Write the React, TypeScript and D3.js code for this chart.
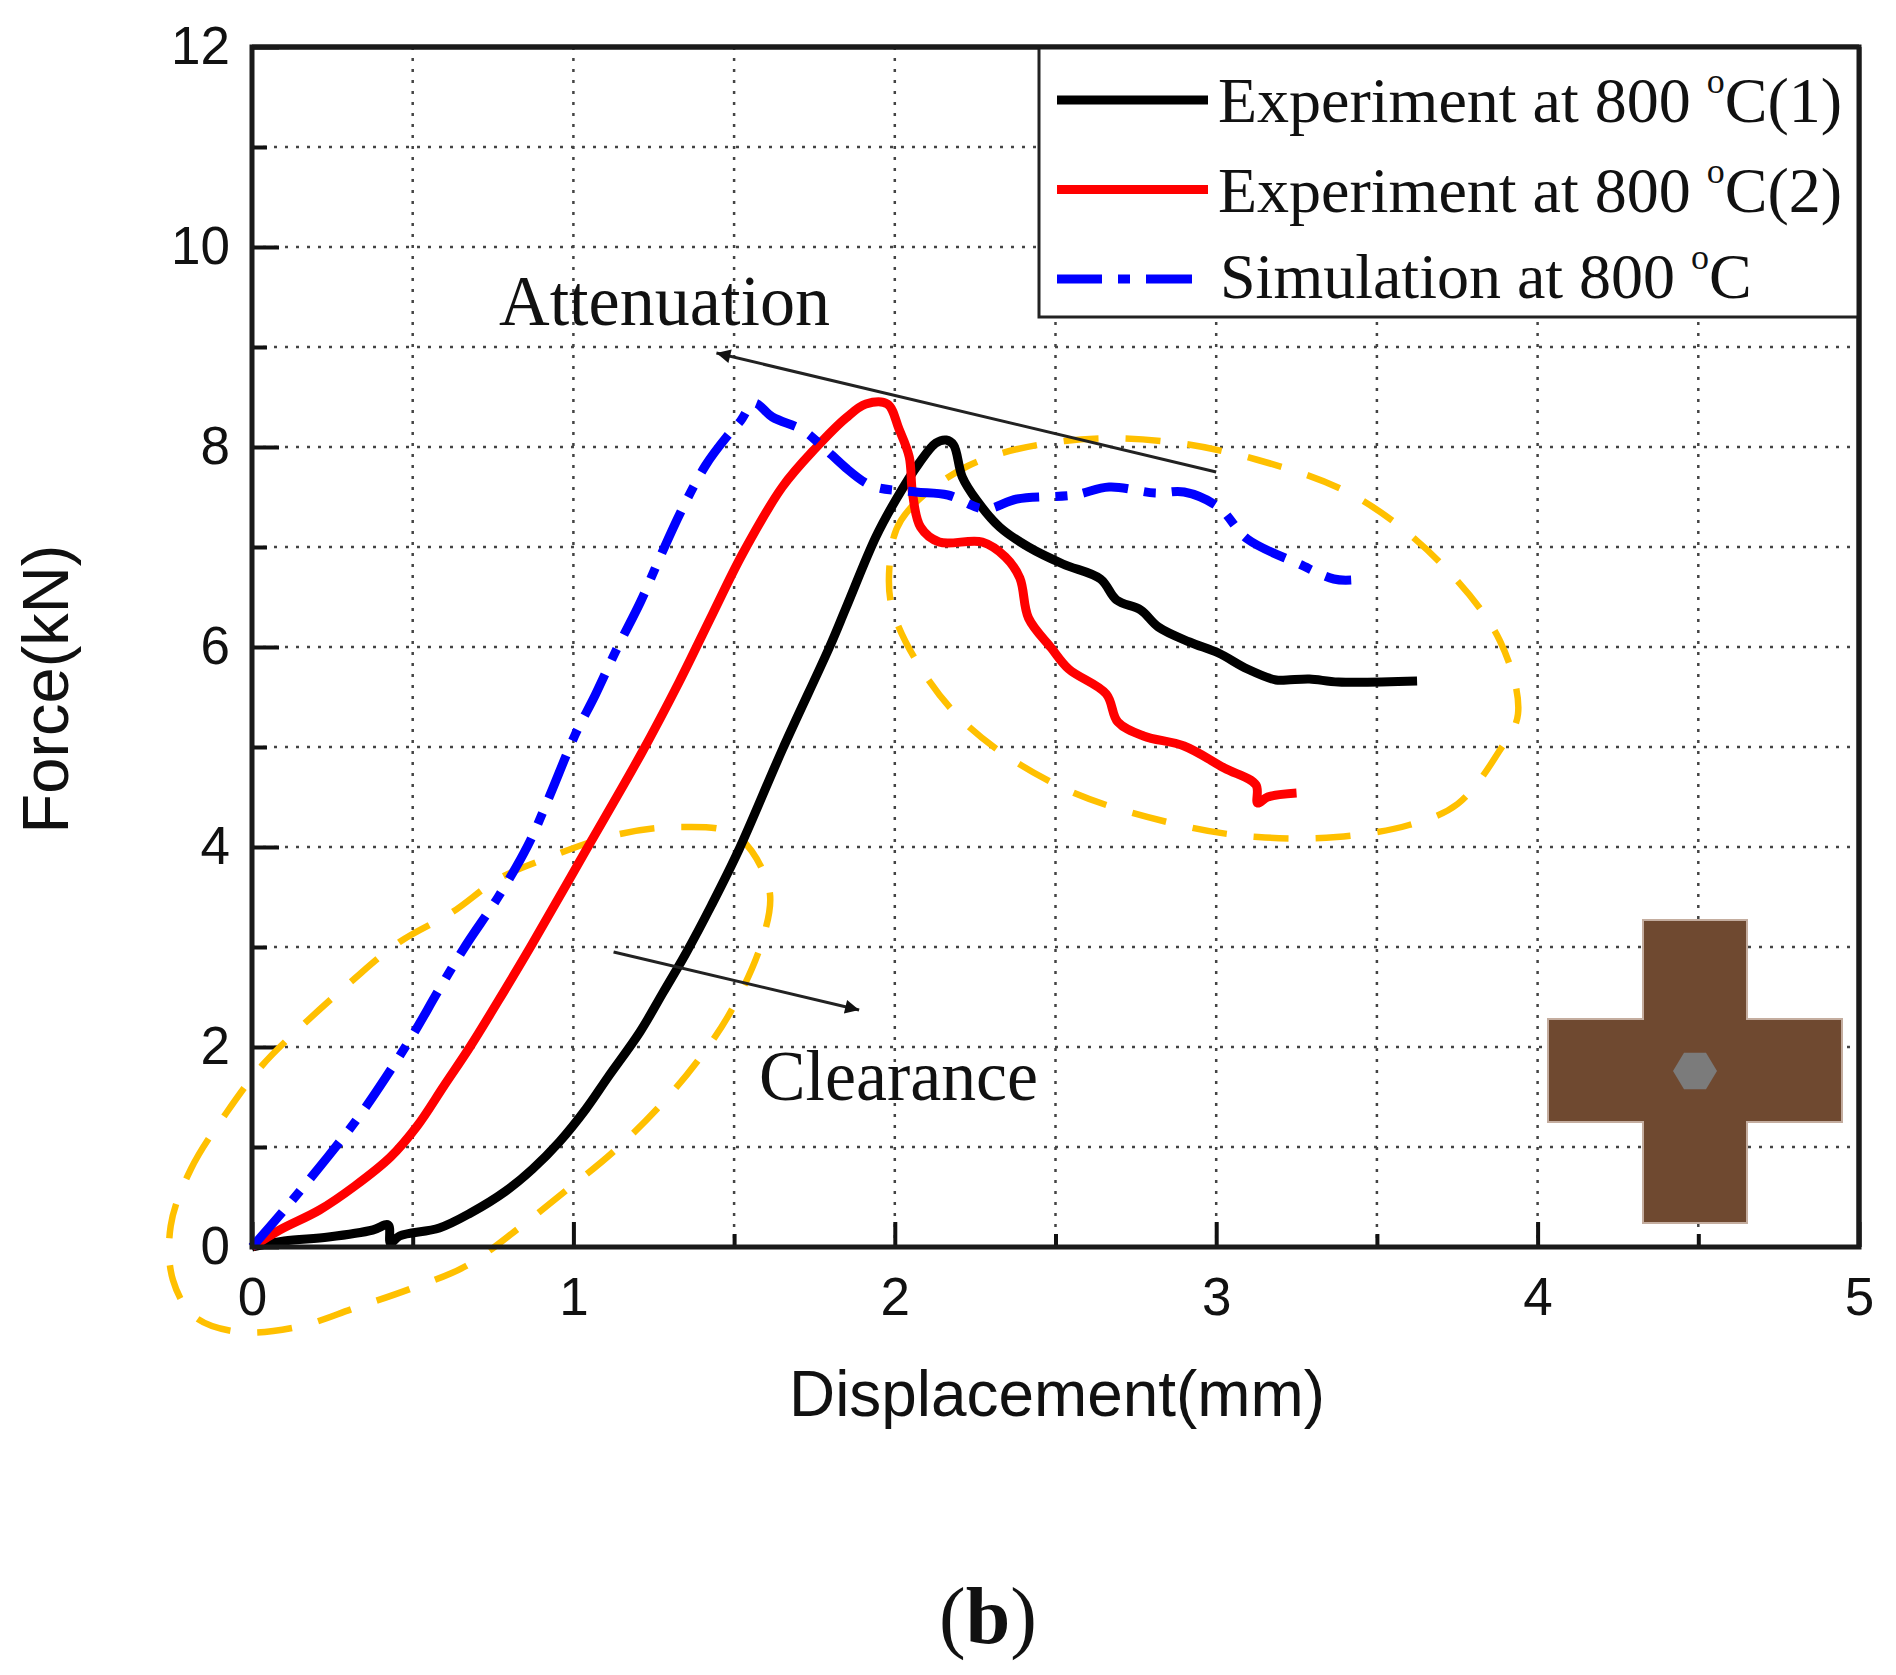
import * as d3 from "d3";
import { useEffect, useRef } from "react";

type Pt = [number, number];

const xMajor = [0, 1, 2, 3, 4, 5];
const xMinor = [0.5, 1.5, 2.5, 3.5, 4.5];
const yMajor = [0, 2, 4, 6, 8, 10, 12];
const yMinor = [1, 3, 5, 7, 9, 11];

// displacement (mm), force (kN)
const experiment1: Pt[] = [
  [0, 0], [0.1, 0.06], [0.238, 0.1], [0.376, 0.17], [0.424, 0.22], [0.431, 0.04], [0.459, 0.11],
  [0.583, 0.19], [0.68, 0.34], [0.79, 0.56], [0.873, 0.78], [0.956, 1.05], [1.039, 1.38], [1.108, 1.7],
  [1.207, 2.15], [1.28, 2.55], [1.349, 2.93], [1.43, 3.42], [1.516, 3.98], [1.651, 4.98], [1.797, 6.0], [1.848, 6.39],
  [1.941, 7.1], [2.003, 7.47], [2.076, 7.84], [2.128, 8.04], [2.16, 8.07], [2.183, 8.02], [2.21, 7.7],
  [2.254, 7.47], [2.326, 7.2], [2.416, 7.0], [2.523, 6.83], [2.64, 6.68], [2.69, 6.47], [2.765, 6.37],
  [2.82, 6.2], [2.917, 6.05], [3.007, 5.94], [3.097, 5.78], [3.186, 5.67], [3.22, 5.67], [3.29, 5.68],
  [3.38, 5.65], [3.625, 5.66],
];

const experiment2: Pt[] = [
  [0, 0], [0.086, 0.17], [0.21, 0.37], [0.32, 0.61], [0.431, 0.9], [0.514, 1.21], [0.597, 1.61],
  [0.68, 2.01], [0.766, 2.46], [0.87, 3.02], [1.036, 3.95], [1.214, 4.95], [1.329, 5.65], [1.433, 6.33],
  [1.526, 6.93], [1.65, 7.6], [1.754, 7.99], [1.848, 8.29], [1.91, 8.43], [1.977, 8.43], [2.013, 8.18],
  [2.045, 7.9], [2.055, 7.54], [2.08, 7.2], [2.138, 7.05], [2.272, 7.05], [2.344, 6.9], [2.389, 6.69],
  [2.416, 6.29], [2.487, 5.99], [2.541, 5.78], [2.658, 5.53], [2.694, 5.25], [2.774, 5.11], [2.9, 5.01],
  [3.025, 4.79], [3.124, 4.62], [3.129, 4.44], [3.16, 4.5], [3.25, 4.54],
];

const simulation: Pt[] = [
  [0, 0], [0.1, 0.37], [0.238, 0.91], [0.334, 1.31], [0.417, 1.7], [0.5, 2.12], [0.583, 2.58],
  [0.666, 3.02], [0.766, 3.5], [0.859, 4.02], [0.922, 4.48], [1.005, 5.12], [1.068, 5.52],
  [1.135, 5.98], [1.21, 6.46], [1.267, 6.88], [1.334, 7.35], [1.412, 7.82], [1.479, 8.11], [1.52, 8.26],
  [1.562, 8.44], [1.619, 8.3], [1.713, 8.17], [1.77, 8.02], [1.848, 7.79],
  [1.91, 7.64], [1.951, 7.59], [2.065, 7.55], [2.165, 7.52], [2.281, 7.38], [2.38, 7.48], [2.559, 7.52],
  [2.667, 7.6], [2.81, 7.54], [2.9, 7.55], [3.007, 7.4], [3.097, 7.08], [3.258, 6.83], [3.366, 6.68],
  [3.42, 6.67],
];

// dashed outlines and arrows, also in data units
const clearanceRing: Pt[] = [
  [-0.253, 0.21], [-0.19, 0.78], [-0.08, 1.34], [0.03, 1.81], [0.155, 2.21], [0.307, 2.65], [0.459, 3.05],
  [0.624, 3.35], [0.766, 3.68], [0.911, 3.88], [1.13, 4.12], [1.328, 4.2], [1.505, 4.12], [1.609, 3.58],
  [1.591, 3.1], [1.494, 2.38], [1.384, 1.85], [1.26, 1.38], [1.12, 0.94], [0.983, 0.58], [0.831, 0.19],
  [0.666, -0.19], [0.5, -0.41], [0.32, -0.61], [0.141, -0.8], [-0.039, -0.85], [-0.177, -0.7], [-0.246, -0.33],
];
const attenuationRing: Pt[] = [
  [1.983, 6.79], [2.02, 7.27], [2.227, 7.81], [2.528, 8.06], [2.829, 8.06], [3.13, 7.87], [3.431, 7.51],
  [3.695, 6.85], [3.883, 6.06], [3.939, 5.33], [3.883, 4.97], [3.751, 4.43], [3.6, 4.22], [3.375, 4.1],
  [3.13, 4.1], [2.9, 4.21], [2.51, 4.61], [2.19, 5.33], [2.0, 6.3],
];
const attenuationArrow: Pt[] = [[3.0, 7.75], [1.445, 8.94]];
const clearanceArrow: Pt[] = [[1.125, 2.95], [1.889, 2.37]];

const legendLabels = ["Experiment at 800 ", "Experiment at 800 ", "Simulation at 800 "];
const legendTails = ["C(1)", "C(2)", "C"];

const SANS = "'Liberation Sans', Arial, sans-serif";
const SERIF = "'Liberation Serif', 'Times New Roman', serif";

export default function App() {
  const svgRef = useRef<SVGSVGElement>(null);

  useEffect(() => {
    const svg = d3.select(svgRef.current);
    svg.selectAll("*").remove();

    const left = 252, right = 1859, top = 47, bottom = 1247;
    const x = d3.scaleLinear().domain([0, 5]).range([left, right]);
    const y = d3.scaleLinear().domain([0, 12]).range([bottom, top]);

    // grid
    const grid = svg.append("g").attr("stroke", "#444").attr("stroke-width", 2.5).attr("stroke-dasharray", "3 8");
    [...xMajor.slice(1, -1), ...xMinor].forEach((v) => {
      grid.append("line").attr("x1", x(v)).attr("x2", x(v)).attr("y1", top).attr("y2", bottom);
    });
    [...yMajor.slice(1, -1), ...yMinor].forEach((v) => {
      grid.append("line").attr("x1", left).attr("x2", right).attr("y1", y(v)).attr("y2", y(v));
    });

    // axes
    const xAxis = d3.axisBottom(x).tickValues(xMajor).tickSize(-25).tickPadding(30).tickFormat((d) => String(d));
    const xMinorAxis = d3.axisBottom(x).tickValues(xMinor).tickSize(-13).tickFormat(() => "");
    const yAxis = d3.axisLeft(y).tickValues(yMajor).tickSize(-27).tickPadding(22).tickFormat((d) => String(d));
    const yMinorAxis = d3.axisLeft(y).tickValues(yMinor).tickSize(-15).tickFormat(() => "");

    const styleAxis = (g: any) => {
      g.select(".domain").remove();
      g.selectAll("line").attr("stroke", "#111").attr("stroke-width", 4);
      g.selectAll("text").attr("font-family", SANS).attr("font-size", 53).attr("fill", "#111");
    };
    svg.append("g").attr("transform", `translate(0,${bottom})`).call(xAxis).call(styleAxis);
    svg.append("g").attr("transform", `translate(0,${bottom})`).call(xMinorAxis).call(styleAxis);
    svg.append("g").attr("transform", `translate(${left},0)`).call(yAxis).call(styleAxis);
    svg.append("g").attr("transform", `translate(${left},0)`).call(yMinorAxis).call(styleAxis);

    // inset cross section
    const inset = svg.append("g").attr("fill", "#6f4930").attr("stroke", "#c4ad9f").attr("stroke-width", 2);
    inset.append("rect").attr("x", 1548).attr("y", 1019).attr("width", 294).attr("height", 103);
    inset.append("rect").attr("x", 1643).attr("y", 920).attr("width", 104).attr("height", 303);
    inset.append("rect").attr("x", 1640).attr("y", 1020).attr("width", 110).attr("height", 101).attr("stroke", "none");
    const hex = d3.range(6).map((i) => {
      const a = (i * Math.PI) / 3;
      return [1695 + 22 * Math.cos(a), 1071 + 21 * Math.sin(a)].join(",");
    });
    svg.append("polygon").attr("points", hex.join(" ")).attr("fill", "#7b7b7b");

    // dashed rings
    const ring = d3.line<Pt>().x((d) => x(d[0])).y((d) => y(d[1])).curve(d3.curveCatmullRomClosed.alpha(0.5));
    [clearanceRing, attenuationRing].forEach((r) => {
      svg.append("path").attr("d", ring(r)).attr("fill", "none").attr("stroke", "#ffc000")
        .attr("stroke-width", 6.5).attr("stroke-dasharray", "35 27");
    });

    // curves
    const line = d3.line<Pt>().x((d) => x(d[0])).y((d) => y(d[1])).curve(d3.curveCatmullRom.alpha(0.5));
    const drawCurve = (data: Pt[], color: string, dash?: string) => {
      const p = svg.append("path").attr("d", line(data)).attr("fill", "none").attr("stroke", color)
        .attr("stroke-width", 9).attr("stroke-linejoin", "round");
      if (dash) p.attr("stroke-dasharray", dash);
    };
    drawCurve(experiment1, "#000");
    drawCurve(experiment2, "#ff0000");
    drawCurve(simulation, "#0000ff", "46 16 12 16");

    // frame on top of the curves' origin
    svg.append("rect").attr("x", left).attr("y", top).attr("width", right - left).attr("height", bottom - top)
      .attr("fill", "none").attr("stroke", "#1a1a1a").attr("stroke-width", 5);

    // arrows
    const defs = svg.append("defs");
    defs.append("marker").attr("id", "head").attr("viewBox", "0 0 10 10").attr("refX", 10).attr("refY", 5)
      .attr("markerWidth", 26).attr("markerHeight", 14).attr("markerUnits", "userSpaceOnUse").attr("orient", "auto")
      .append("path").attr("d", "M0,0L10,5L0,10Z").attr("fill", "#111");
    [attenuationArrow, clearanceArrow].forEach((a) => {
      svg.append("line").attr("x1", x(a[0][0])).attr("y1", y(a[0][1])).attr("x2", x(a[1][0])).attr("y2", y(a[1][1]))
        .attr("stroke", "#222").attr("stroke-width", 3).attr("marker-end", "url(#head)");
    });

    const addText = (txt: string, px: number, py: number, size: number, family: string, len?: number) => {
      const t = svg.append("text").attr("x", px).attr("y", py).attr("font-size", size)
        .attr("font-family", family).attr("fill", "#111").text(txt);
      if (len) t.attr("textLength", len).attr("lengthAdjust", "spacingAndGlyphs");
      return t;
    };
    addText("Attenuation", 499, 325, 72, SERIF, 331);
    addText("Clearance", 759, 1100, 72, SERIF, 279);

    // axis titles
    addText("Displacement(mm)", 789, 1416, 64, SANS, 536);
    svg.append("text").attr("transform", "translate(68,689) rotate(-90)").attr("text-anchor", "middle")
      .attr("font-family", SANS).attr("font-size", 65).attr("fill", "#111").text("Force(kN)");

    // legend
    svg.append("rect").attr("x", 1039).attr("y", top).attr("width", right - 1039).attr("height", 270)
      .attr("fill", "#fff").attr("stroke", "#222").attr("stroke-width", 3);
    svg.append("line").attr("x1", left).attr("x2", right).attr("y1", top).attr("y2", top)
      .attr("stroke", "#1a1a1a").attr("stroke-width", 5);
    svg.append("line").attr("x1", right).attr("x2", right).attr("y1", top).attr("y2", bottom)
      .attr("stroke", "#1a1a1a").attr("stroke-width", 5);
    const legendColors = ["#000", "#ff0000", "#0000ff"];
    const legendY = d3.scalePoint<number>().domain([0, 1, 2]).range([100, 279]);
    legendLabels.forEach((label, i) => {
      const ly = legendY(i) as number;
      const l = svg.append("line").attr("x1", 1057).attr("x2", i === 2 ? 1192 : 1208).attr("y1", ly).attr("y2", ly)
        .attr("stroke", legendColors[i]).attr("stroke-width", 9);
      if (i === 2) l.attr("stroke-dasharray", "45 16 12 16 46");
      const t = svg.append("text").attr("x", i === 2 ? 1220 : 1218).attr("y", ly + (i === 2 ? 19 : 22))
        .attr("font-family", SERIF).attr("font-size", 64).attr("fill", "#111").attr("xml:space", "preserve");
      t.append("tspan").text(label);
      t.append("tspan").attr("font-size", 36).attr("dy", -29).text("o");
      t.append("tspan").attr("dy", 29).text(legendTails[i]);
    });

    // sub-figure label
    svg.append("text").attr("x", 988).attr("y", 1643).attr("text-anchor", "middle")
      .attr("font-family", SERIF).attr("font-size", 80).attr("fill", "#111")
      .call((t) => {
        t.append("tspan").text("(");
        t.append("tspan").attr("font-weight", "bold").text("b");
        t.append("tspan").text(")");
      });
  }, []);

  return (
    <svg
      ref={svgRef}
      width={1896}
      height={1675}
      style={{ position: "absolute", left: 0, top: 0, background: "#fff" }}
    />
  );
}
